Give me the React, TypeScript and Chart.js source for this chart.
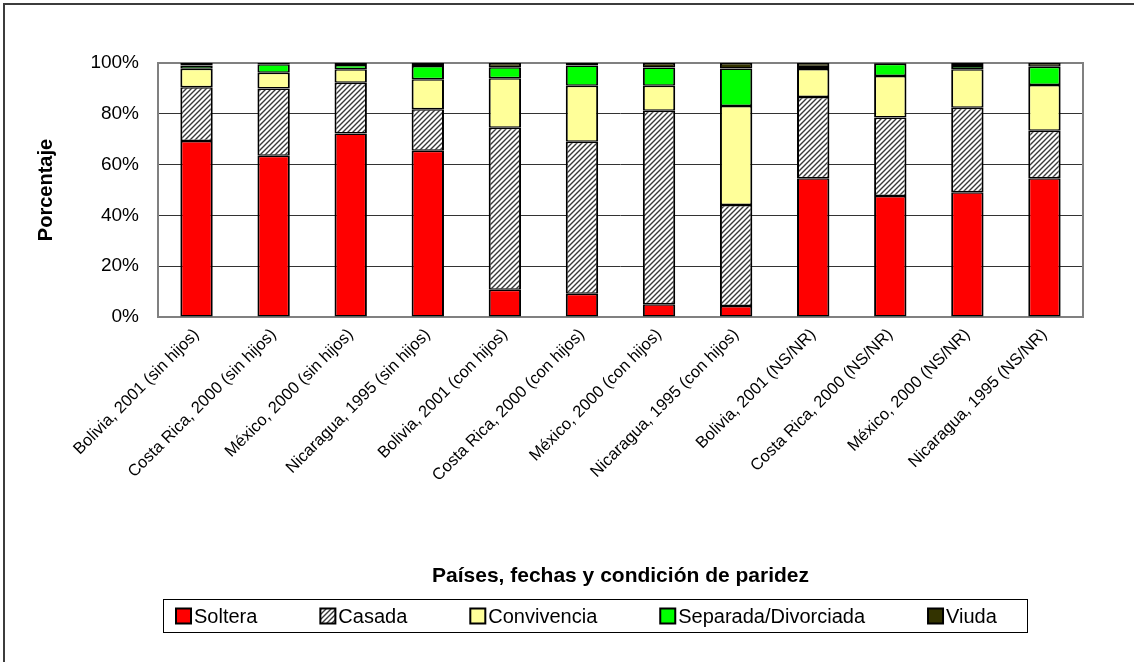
import { useEffect, useRef } from "react";
import { Chart, registerables } from "chart.js";
Chart.register(...registerables);

const categories = [
  "Bolivia, 2001 (sin hijos)",
  "Costa Rica, 2000 (sin hijos)",
  "México, 2000 (sin hijos)",
  "Nicaragua, 1995 (sin hijos)",
  "Bolivia, 2001 (con hijos)",
  "Costa Rica, 2000 (con hijos)",
  "México, 2000 (con hijos)",
  "Nicaragua, 1995 (con hijos)",
  "Bolivia, 2001 (NS/NR)",
  "Costa Rica, 2000 (NS/NR)",
  "México, 2000 (NS/NR)",
  "Nicaragua, 1995 (NS/NR)",
];

const seriesNames = ["Soltera", "Casada", "Convivencia", "Separada/Divorciada", "Viuda"];
const soltera = [69.3, 63.5, 72.2, 65.5, 10.7, 9.2, 5.0, 4.3, 54.6, 47.6, 49.1, 54.6];
const casada = [21.2, 26.5, 20.0, 16.3, 63.8, 59.8, 76.2, 39.8, 32.0, 30.9, 33.3, 18.7];
const convivencia = [7.2, 6.2, 5.3, 11.8, 19.5, 22.0, 9.8, 39.0, 11.0, 16.4, 15.1, 18.0];
const separada = [1.3, 3.3, 1.7, 5.2, 4.3, 8.0, 7.2, 14.7, 0.8, 4.8, 1.3, 7.2];
const viuda = [1.0, 0.5, 0.8, 1.2, 1.7, 1.0, 1.8, 2.2, 1.6, 0.3, 1.2, 1.5];

const yTicks = [0, 20, 40, 60, 80, 100];
const xTitle = "Países, fechas y condición de paridez";
const yTitle = "Porcentaje";

const FONT = "'Liberation Sans', Arial, sans-serif";

function makeHatch(): CanvasPattern | string {
  const c = document.createElement("canvas");
  c.width = 5;
  c.height = 5;
  const g = c.getContext("2d");
  if (!g) return "#888";
  g.fillStyle = "#ffffff";
  g.fillRect(0, 0, 5, 5);
  g.strokeStyle = "#3a3a3a";
  g.lineWidth = 1.4;
  g.beginPath();
  g.moveTo(-1, 6);
  g.lineTo(6, -1);
  g.moveTo(-1, 1);
  g.lineTo(1, -1);
  g.moveTo(4, 6);
  g.lineTo(6, 4);
  g.stroke();
  const p = g.createPattern(c, "repeat");
  return p || "#888";
}

export default function App() {
  const ref = useRef<HTMLCanvasElement | null>(null);

  useEffect(() => {
    if (!ref.current) return;
    const hatch = makeHatch();
    const fills: any[] = ["#ff0000", hatch, "#ffff99", "#00ff00", "#333300"];
    const values = [soltera, casada, convivencia, separada, viuda];

    const frame = {
      id: "frame",
      beforeDatasetsDraw(chart: any) {
        const { ctx, chartArea } = chart;
        ctx.save();
        ctx.strokeStyle = "#808080";
        ctx.lineWidth = 2;
        ctx.strokeRect(chartArea.left, chartArea.top, chartArea.right - chartArea.left, chartArea.bottom - chartArea.top);
        ctx.restore();
      },
      afterDraw(chart: any) {
        const { ctx } = chart;
        ctx.save();
        // outer border
        ctx.strokeStyle = "#3c3c3c";
        ctx.lineWidth = 2;
        ctx.beginPath();
        ctx.moveTo(4, 662);
        ctx.lineTo(4, 4);
        ctx.lineTo(1134, 4);
        ctx.stroke();
        // legend
        const boxL = 163.5, boxT = 599.5, boxR = 1027.5, boxB = 632.5;
        ctx.strokeStyle = "#000";
        ctx.lineWidth = 1;
        ctx.fillStyle = "#fff";
        ctx.fillRect(boxL, boxT, boxR - boxL, boxB - boxT);
        ctx.strokeRect(boxL, boxT, boxR - boxL, boxB - boxT);
        ctx.font = "20px " + FONT;
        ctx.textBaseline = "middle";
        ctx.textAlign = "left";
        const cy = 616;
        let x = 176;
        chart.data.datasets.forEach((ds: any) => {
          const sz = 15;
          ctx.fillStyle = ds.backgroundColor;
          ctx.fillRect(x, cy - sz / 2, sz, sz);
          ctx.lineWidth = 2;
          ctx.strokeStyle = "#000";
          ctx.strokeRect(x, cy - sz / 2, sz, sz);
          ctx.fillStyle = "#000";
          ctx.fillText(ds.label, x + sz + 3, cy + 1);
          const w = ctx.measureText(ds.label).width;
          x += sz + 3 + w + 63;
        });
        ctx.restore();
      },
    };

    const chart = new Chart(ref.current, {
      type: "bar",
      data: {
        labels: categories,
        datasets: seriesNames.map((name, i) => ({
          label: name,
          data: values[i],
          backgroundColor: fills[i],
          borderColor: "#000000",
          borderWidth: { left: 2, right: 2, top: 1.5, bottom: 1.5 },
          borderSkipped: false,
          barPercentage: 0.42,
          categoryPercentage: 1,
        })),
      },
      options: {
        responsive: false,
        animation: false,
        devicePixelRatio: 1,
        layout: { padding: { left: 0, top: 63, right: 51, bottom: 0 } },
        plugins: {
          legend: { display: false },
          tooltip: { enabled: false },
        },
        scales: {
          x: {
            stacked: true,
            grid: { display: false, drawTicks: false },
            border: { display: false },
            ticks: {
              autoSkip: false,
              maxRotation: 45,
              minRotation: 45,
              padding: 8,
              color: "#000",
              font: { family: FONT, size: 16.5 },
            },
            title: {
              display: true,
              text: xTitle,
              color: "#000",
              font: { family: FONT, size: 21, weight: "bold" },
              padding: { top: 0, bottom: 73 },
            },
            afterFit(scale: any) {
              scale.height = 345;
            },
          },
          y: {
            stacked: true,
            min: 0,
            max: 100,
            afterBuildTicks(scale: any) {
              scale.ticks = yTicks.map((v) => ({ value: v }));
            },
            grid: { color: "#333333", lineWidth: 1, drawTicks: false },
            border: { display: false },
            ticks: {
              padding: 19,
              color: "#000",
              font: { family: FONT, size: 19 },
              callback: (v: any) => v + "%",
            },
            title: {
              display: true,
              text: yTitle,
              color: "#000",
              font: { family: FONT, size: 20, weight: "bold" },
              padding: { top: 34, bottom: 0 },
            },
            afterFit(scale: any) {
              scale.width = 158;
            },
          },
        },
      },
      plugins: [frame],
    });
    return () => chart.destroy();
  }, []);

  return (
    <div style={{ position: "absolute", left: 0, top: 0, width: 1134, height: 662, background: "#fff" }}>
      <canvas ref={ref} width={1134} height={662} style={{ display: "block" }} />
    </div>
  );
}
